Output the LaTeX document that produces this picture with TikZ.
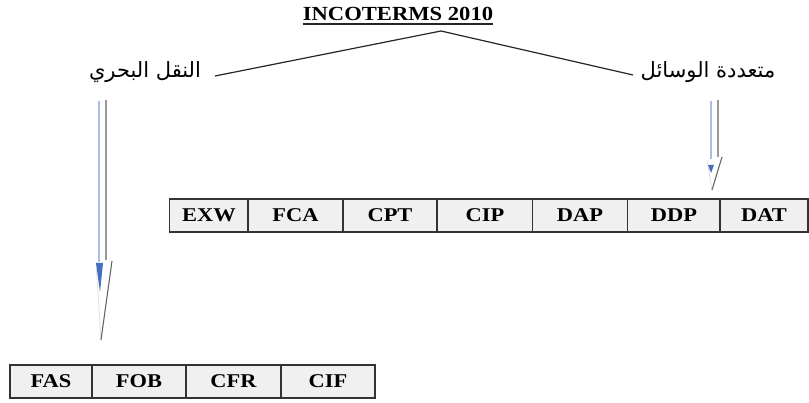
\documentclass[tikz,border=0pt]{standalone}
\usepackage{fontspec}
\setmainfont{Liberation Serif}
\newfontfamily\arabicfont[Script=Arabic]{DejaVu Sans}
\TeXXeTstate=1
\begin{document}
\begin{tikzpicture}[x=1pt,y=-1pt,
  cell/.style={draw=black!80, line width=1.5pt, fill=black!6, minimum height=33pt, inner sep=0pt},
  celltext/.style={font=\bfseries\fontsize{19.5}{19.5}\selectfont},
  arlabel/.style={font=\arabicfont\fontsize{21}{21}\selectfont, inner sep=0pt},
  branch/.style={draw=black!85, line width=1.2pt},
  shaftblue/.style={draw={rgb,255:red,165;green,192;blue,230}, line width=2.4pt},
  shaftgray/.style={draw=black!40, line width=1.3pt},
  headgray/.style={draw=black!60, line width=1.1pt},
  headlight/.style={draw=black!12, line width=0.8pt},
  headblue/.style={fill={rgb,255:red,70;green,110;blue,190}}
]
\useasboundingbox (0,0) rectangle (809,403);

% title
\node[inner sep=0pt, anchor=base] (title) at (398,21)
  {\fontsize{20}{20}\selectfont\bfseries\scalebox{1.13}[1]{INCOTERMS 2010}};
\draw[black!85, line width=1.3pt] (title.base west) ++(0,3) -- ([yshift=-3pt]title.base east);

% branch labels
\node[arlabel] (sea) at (145,72) {\beginR النقل البحري\endR};
\node[arlabel] (multi) at (708,72) {\beginR متعددة الوسائل\endR};

\coordinate (apex) at (441,31);
\coordinate (seaEnd) at (215,76);
\coordinate (multiEnd) at (633,75);
\draw[branch] (apex) -- (seaEnd);
\draw[branch] (apex) -- (multiEnd);

% top table
\foreach \name/\cx/\w in {EXW/209/79, FCA/295.5/95, CPT/390/94, CIP/485/96, DAP/580/95, DDP/674/93, DAT/764/88}{
  \node[cell, minimum width=\w pt] (\name) at (\cx,215.5) {};
  \node[celltext] at (\name) {\scalebox{1.15}[1]{\name}};
}
% bottom table
\foreach \name/\cx/\w in {FAS/51/82, FOB/139/94, CFR/233.5/95, CIF/328/94}{
  \node[cell, minimum width=\w pt] (\name) at (\cx,381.5) {};
  \node[celltext] at (\name) {\scalebox{1.15}[1]{\name}};
}

% left arrow
\coordinate (lTop) at (99,101);
\coordinate (lTip) at (101,340);
\draw[shaftblue] (lTop) -- (99,263);
\draw[shaftgray] (106,100) -- (106,260);
\fill[white] (96,262) -- (112,262) -- (lTip) -- cycle;
\draw[headlight] (96,262) -- (lTip);
\draw[headgray] (112,261) -- (lTip);
\fill[headblue] (96,263) -- (103,263) -- (100,292) -- cycle;

% right arrow
\coordinate (rTop) at (711,101);
\coordinate (rTip) at (712,190);
\draw[shaftblue] (rTop) -- (711,166);
\draw[shaftgray] (718,100) -- (718,157);
\fill[white] (707,160) -- (722,157) -- (rTip) -- cycle;
\draw[headlight] (707,160) -- (rTip);
\draw[headgray] (722,157) -- (rTip);
\fill[headblue] (708,165) -- (714,165) -- (711,173) -- cycle;
\end{tikzpicture}
\end{document}
